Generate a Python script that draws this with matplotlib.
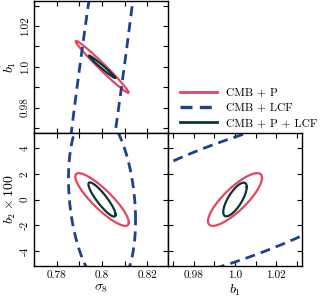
import numpy as np
import matplotlib
matplotlib.use('Agg')
import matplotlib.pyplot as plt
from matplotlib.lines import Line2D

plt.rcParams['font.family'] = 'serif'
plt.rcParams['font.serif'] = ['cmr10', 'DejaVu Serif']
plt.rcParams['mathtext.fontset'] = 'cm'
plt.rcParams['axes.unicode_minus'] = False

# parameters: sigma_8, b_1, b_2 x 100
fiducial = [0.8, 1.0, 0.0]

labels = ['CMB + P', 'CMB + LCF', 'CMB + P + LCF']
colors = ['#e3475f', '#1f3f8f', '#0b3535']
styles = ['-', (0, (3.6, 2.2)), '-']
widths = [1.6, 2.0, 1.6]

# contour half-extents and correlation, per panel:
# panels are (sigma8, b1), (sigma8, b2), (b1, b2)
cmb_p_sx = [0.0116, 0.0118, 0.0131]
cmb_p_sy = [0.0127, 2.05, 2.05]
cmb_p_rho = [-0.985, -0.87, 0.82]

cmb_lcf_sx = [0.026, 0.0148, 0.094]
cmb_lcf_sy = [0.2, 7.0, 7.0]
cmb_lcf_rho = [0.926, -0.23, 0.72]

cmb_p_lcf_sx = [0.0058, 0.0060, 0.0057]
cmb_p_lcf_sy = [0.0055, 1.33, 1.31]
cmb_p_lcf_rho = [-0.985, -0.89, 0.74]

sx_all = [cmb_p_sx, cmb_lcf_sx, cmb_p_lcf_sx]
sy_all = [cmb_p_sy, cmb_lcf_sy, cmb_p_lcf_sy]
rho_all = [cmb_p_rho, cmb_lcf_rho, cmb_p_lcf_rho]

# axis ranges and ticks
ranges = [(0.7709, 0.8291), (0.9675, 1.0325), (-5.17, 5.17)]
ticks = [[0.77, 0.78, 0.79, 0.80, 0.81, 0.82],
         [0.97, 0.98, 0.99, 1.00, 1.01, 1.02, 1.03],
         [-4, -2, 0, 2, 4]]
tick_labels = [['', '0.78', '', '0.8', '', '0.82'],
               ['', '0.98', '', '1.0', '', '1.02', ''],
               ['-4', '-2', '0', '2', '4']]
axis_labels = [r'$\sigma_8$', r'$b_1$', r'$b_2 \times 100$']


def ellipse(i, j, sx, sy, rho):
	t = np.linspace(0, 2 * np.pi, 400)
	cov = np.array([[sx**2, rho * sx * sy], [rho * sx * sy, sy**2]])
	L = np.linalg.cholesky(cov)
	pts = L @ np.vstack([np.cos(t), np.sin(t)])
	return fiducial[i] + pts[0], fiducial[j] + pts[1]


W, H = 320, 302
fig = plt.figure(figsize=(W / 100, H / 100), dpi=100)


def make_ax(x0, y0, x1, y1):
	return fig.add_axes([x0 / W, 1 - y1 / H, (x1 - x0) / W, (y1 - y0) / H])


ax_tl = make_ax(34, 0.5, 168, 133)
ax_bl = make_ax(34, 133, 168, 266)
ax_br = make_ax(168, 133, 302, 266)

panels = [(ax_tl, 0, 1), (ax_bl, 0, 2), (ax_br, 1, 2)]

for p, (ax, i, j) in enumerate(panels):
	for k in range(3):
		x, y = ellipse(i, j, sx_all[k][p], sy_all[k][p], rho_all[k][p])
		ax.plot(x, y, color=colors[k], ls=styles[k], lw=widths[k])
	ax.set_xlim(ranges[i])
	ax.set_ylim(ranges[j])
	ax.set_xticks(ticks[i])
	ax.set_xticklabels(tick_labels[i])
	ax.set_yticks(ticks[j])
	ax.set_yticklabels(tick_labels[j], rotation=90, va='center')
	ax.tick_params(direction='in', top=True, right=True, length=3.5, width=0.8,
				   labelsize=8, pad=3)
	for s in ax.spines.values():
		s.set_linewidth(1.0)

ax_tl.tick_params(labelbottom=False)
ax_br.tick_params(labelleft=False)
ax_tl.set_ylabel(axis_labels[1], fontsize=10, labelpad=2)
ax_bl.set_ylabel(axis_labels[2], fontsize=10, labelpad=2)
ax_bl.set_xlabel(axis_labels[0], fontsize=10, labelpad=2)
ax_br.set_xlabel(axis_labels[1], fontsize=10, labelpad=2)

handles = [Line2D([], [], color=colors[k], ls=styles[k], lw=widths[k] + 0.4) for k in range(3)]
fig.legend(handles, labels, loc='center left', bbox_to_anchor=(175 / W, 1 - 108 / H),
		   frameon=False, fontsize=8.3, handlelength=3.2, handletextpad=0.8,
		   labelspacing=0.45, borderaxespad=0)

fig.savefig('out.png', dpi=100)
